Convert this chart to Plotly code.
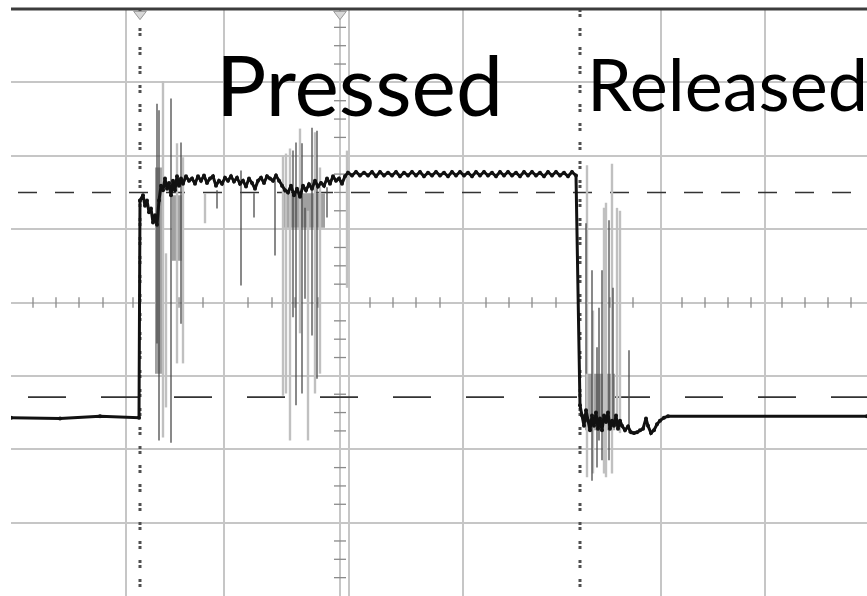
import plotly.graph_objects as go

# ---------------- data (time in µs relative to trigger, level in V, 1 V/div) ----------------
sig_t = [-329, -280, -240, -201,
         -200, -197, -195, -193, -191, -189, -187, -185, -183, -181, -179, -177, -175, -173,
         -171, -169, -167, -165, -163, -161, -159, -157, -154, -151, -148, -145, -142, -139,
         -136, -133, -130, -127, -124, -121, -118, -115, -112, -109, -106, -103, -100, -97,
         -94, -91, -88, -85, -82, -79, -76, -73, -70, -67, -64, -61, -58, -55, -52, -49, -46,
         -43, -40, -37, -34, -31, -28, -25, -22, -19, -16, -13, -10, -7, -4, -1, 2, 5, 8,
         12, 16, 20, 24, 28, 32, 36, 40, 44, 48, 52, 56, 60, 64, 68, 72, 76, 80, 84, 88, 92,
         96, 100, 104, 108, 112, 116, 120, 124, 128, 132, 136, 140, 144, 148, 152, 156, 160,
         164, 168, 172, 176, 180, 184, 188, 192, 196, 200, 204, 208, 212, 216, 220, 224, 228,
         232, 236,
         240, 242, 244, 246, 248, 250, 252, 254, 256, 258, 260, 262, 264, 266, 268, 270, 272,
         274, 276, 278, 280, 282, 285, 288, 291, 294, 297, 300, 303, 306, 308, 311, 314, 317,
         320, 324, 328, 527]
sig_v = [-1.57, -1.58, -1.55, -1.57,
         1.39, 1.46, 1.32, 1.39, 1.23, 1.28, 1.09, 1.19, 1.06, 1.39, 1.59, 1.53, 1.69, 1.55,
         1.63, 1.46, 1.66, 1.53, 1.72, 1.59, 1.69, 1.62, 1.72, 1.66, 1.69, 1.62, 1.72, 1.66,
         1.73, 1.63, 1.69, 1.72, 1.59, 1.66, 1.62, 1.70, 1.66, 1.72, 1.65, 1.70, 1.62, 1.66,
         1.58, 1.69, 1.63, 1.55, 1.66, 1.70, 1.63, 1.72, 1.69, 1.66, 1.73, 1.66, 1.59, 1.53,
         1.50, 1.59, 1.46, 1.55, 1.44, 1.59, 1.53, 1.61, 1.55, 1.66, 1.58, 1.63, 1.59, 1.69,
         1.62, 1.72, 1.66, 1.69, 1.62, 1.72, 1.77,
         1.73, 1.78, 1.73, 1.77, 1.73, 1.78, 1.72, 1.78, 1.73, 1.77, 1.73, 1.78, 1.72, 1.77,
         1.73, 1.78, 1.73, 1.78, 1.72, 1.77, 1.73, 1.78, 1.73, 1.77, 1.72, 1.78, 1.73, 1.78,
         1.73, 1.77, 1.72, 1.78, 1.73, 1.78, 1.73, 1.77, 1.72, 1.78, 1.73, 1.78, 1.73, 1.77,
         1.72, 1.78, 1.73, 1.78, 1.73, 1.77, 1.72, 1.78, 1.73, 1.78, 1.73, 1.77, 1.72, 1.78,
         1.73,
         -1.40, -1.54, -1.68, -1.47, -1.61, -1.74, -1.54, -1.68, -1.50, -1.72, -1.58, -1.74,
         -1.54, -1.63, -1.50, -1.72, -1.61, -1.68, -1.54, -1.72, -1.61, -1.68, -1.74, -1.69,
         -1.77, -1.78, -1.77, -1.74, -1.72, -1.58, -1.68, -1.78, -1.74, -1.66, -1.61, -1.57,
         -1.55, -1.55]

# bounce glitches (light trace): time, top, bottom
light_t = [-177, -174, -163, -157, -135, -57, -54, -50, -40, -32, -25, -20, 7,
           247, 253, 264, 266, 272, 277, 280]
light_top = [3.02, 0.67, 2.17, 1.98, 1.49, 2.00, 2.03, 2.10, 2.37, 1.25, 2.32, 1.84, 2.07,
             1.87, -0.11, 1.29, 1.36, 1.89, 1.29, 1.25]
light_bot = [-1.84, -1.43, -0.83, -0.83, 1.08, -1.27, -1.24, -1.88, -0.42, -1.88, -1.24, -0.97, 0.20,
             -2.38, -2.33, -2.33, -2.38, -2.33, -1.74, -1.78]

# bounce glitches (dark trace): time, top, bottom
dark_t = [-183, -181, -169, -159, -123, -99, -86, -65, -47, -44, -38, -35, -28, -23, -13,
          246, 252, 257, 259, 262, 269, 273, 289]
dark_top = [2.71, 2.62, 2.78, 2.18, 1.53, 1.80, 1.49, 1.70, 2.07, 2.18, 2.17, 1.29, 2.38, 2.34, 1.57,
            1.08, 0.44, -0.61, -0.07, 0.44, 1.12, 0.20, -0.65]
dark_bot = [-0.56, -1.88, -1.91, -0.29, 1.28, 0.23, 1.16, 0.64, -0.20, -1.40, -1.24, 0.05, -0.45, -1.04, 1.16,
            -0.97, -2.43, -2.25, -1.88, -2.15, -2.15, -1.70, -1.78]

# dense bounce envelopes: start, end, top, bottom
band_t0 = [-185, -168, -57, 245]
band_t1 = [-177, -157, -15, 275]
band_top = [1.84, 1.46, 1.49, -0.97]
band_bot = [-0.97, 0.57, 1.02, -1.74]

# logic thresholds and cursors
thresh_v = [1.50, -1.29]
cursor_t = [-200, 240]
marker_t = [-200, 0]

labels = ["Pressed", "Released"]

# ---------------- graticule (style) ----------------
X0, X1 = -329, 527
grid_x = [-214, -116, 0, 9, 123, 321, 425]
hticks_x = [-307, -284, -261, -237, -207, -184, -161, -137, -92, -68, -45, -22, 30, 53, 76,
            100, 146, 169, 192, 216, 270, 293, 342, 365, 388, 411, 442, 465, 488, 511]


def segs(ts, tops, bots):
    xs, ys = [], []
    for t, a, b in zip(ts, tops, bots):
        xs += [t, t, None]
        ys += [a, b, None]
    return xs, ys


fig = go.Figure()

# minor ticks on centre lines
tx, ty = [], []
for t in hticks_x:
    tx += [t, t, None]
    ty += [-0.07, 0.07, None]
k = -16
while k <= 16:
    if k % 4 != 0:
        tx += [-6, 6, None]
        ty += [k / 4, k / 4, None]
    k += 1
fig.add_trace(go.Scatter(x=tx, y=ty, mode="lines", line=dict(color="#8a8a8a", width=1.3),
                         hoverinfo="skip"))

# threshold dashed lines
fig.add_trace(go.Scatter(x=[X0 + 7, X1], y=[thresh_v[0]] * 2, mode="lines",
                         line=dict(color="#333333", width=1.6, dash="19px,18px"), hoverinfo="skip"))
fig.add_trace(go.Scatter(x=[X0 + 17, X1], y=[thresh_v[1]] * 2, mode="lines",
                         line=dict(color="#333333", width=1.8, dash="38px,35px"), hoverinfo="skip"))

# bands
bx, by = [], []
for a, b, top, bot in zip(band_t0, band_t1, band_top, band_bot):
    bx += [a, b, b, a, a, None]
    by += [top, top, bot, bot, top, None]
fig.add_trace(go.Scatter(x=bx, y=by, mode="lines", fill="toself", fillcolor="#a0a0a0",
                         line=dict(width=0, color="#a0a0a0"), hoverinfo="skip"))

lx, ly = segs(light_t, light_top, light_bot)
fig.add_trace(go.Scatter(x=lx, y=ly, mode="lines", line=dict(color="#c0c0c0", width=2.4),
                         hoverinfo="skip"))
dx, dy = segs(dark_t, dark_top, dark_bot)
fig.add_trace(go.Scatter(x=dx, y=dy, mode="lines", line=dict(color="#4a4a4a", width=1.3),
                         hoverinfo="skip"))

# cursors
for c in cursor_t:
    fig.add_trace(go.Scatter(x=[c, c], y=[4, -4], mode="lines",
                             line=dict(color="#505050", width=3, dash="3px,2px,3px,11px"),
                             hoverinfo="skip"))

# main signal
fig.add_trace(go.Scatter(x=sig_t, y=sig_v, mode="lines+markers",
                         line=dict(color="#111111", width=3),
                         marker=dict(color="#111111", size=4), hoverinfo="skip"))

# cursor markers at top
fig.add_trace(go.Scatter(x=marker_t, y=[3.93, 3.93], mode="markers", cliponaxis=False,
                         marker=dict(symbol="triangle-down", size=11, color="#d8d8d8",
                                     line=dict(color="#9a9a9a", width=1)), hoverinfo="skip"))

fig.add_annotation(x=-125, y=2.28, xref="x", yref="y", text=labels[0], showarrow=False,
                   xanchor="left", yanchor="bottom", borderpad=0,
                   font=dict(family="Lato", size=84, color="black"))
fig.add_annotation(x=246, y=2.39, xref="x", yref="y", text=labels[1], showarrow=False,
                   xanchor="left", yanchor="bottom", borderpad=0,
                   font=dict(family="Lato", size=72, color="black"))

fig.add_shape(type="line", xref="paper", yref="paper", x0=0, x1=1, y0=1, y1=1,
              line=dict(color="#3c3c3c", width=3))

fig.update_layout(width=867, height=596, margin=dict(l=11, r=0, t=9, b=0),
                  paper_bgcolor="white", plot_bgcolor="white", showlegend=False)
fig.update_xaxes(range=[X0, X1], tickvals=grid_x, showticklabels=False, showgrid=True,
                 gridcolor="#c6c6c6", gridwidth=2, zeroline=False, ticks="", showline=False)
fig.update_yaxes(range=[-4, 4], tick0=0, dtick=1, showticklabels=False, showgrid=True,
                 gridcolor="#c6c6c6", gridwidth=2, zeroline=False, ticks="", showline=False)

# remove the default 8px page margin so the figure fills the window exactly
fig.write_html("out.html", config={"displayModeBar": False},
               post_script="document.body.style.margin='0px';document.body.style.overflow='hidden';")
